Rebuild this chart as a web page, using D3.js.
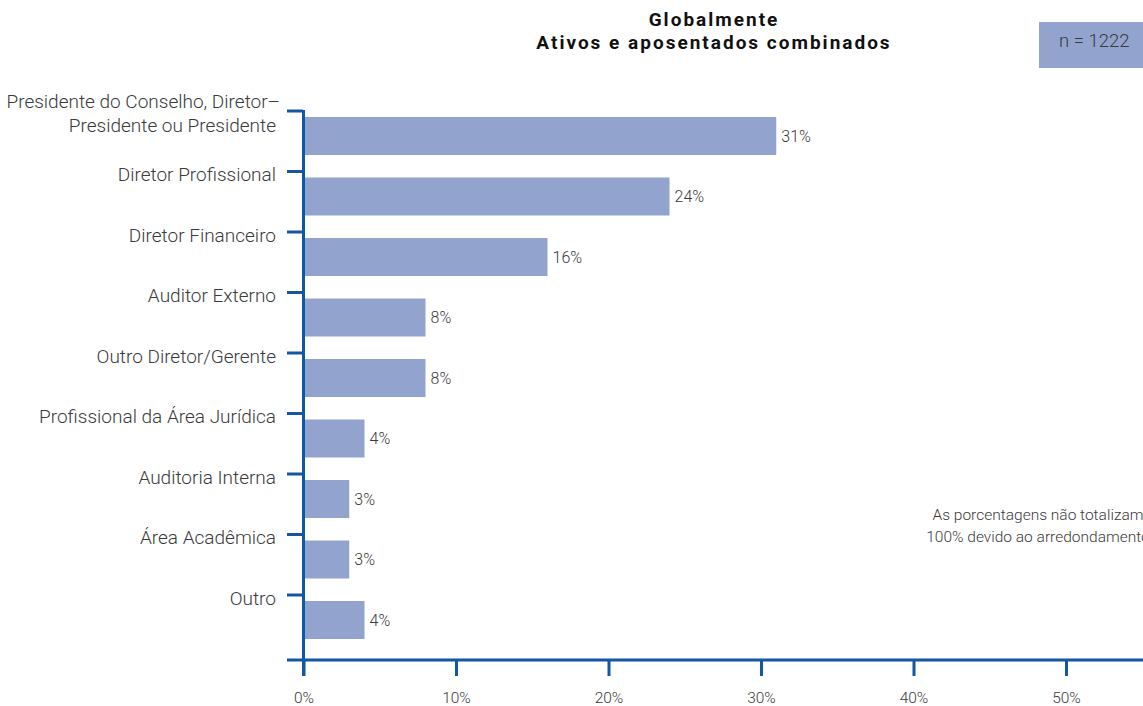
<!DOCTYPE html>
<html>
<head>
<meta charset="utf-8">
<script src="https://cdn.jsdelivr.net/npm/d3@7"></script>
<style>
  html, body { margin: 0; padding: 0; background: #fff; }
  svg { display: block; }
  text { font-family: Roboto, "Liberation Sans", Arial, sans-serif; }
</style>
</head>
<body>
<script>
// ---- data ----
const categories = [
  "Presidente do Conselho, Diretor–\nPresidente ou Presidente",
  "Diretor Profissional",
  "Diretor Financeiro",
  "Auditor Externo",
  "Outro Diretor/Gerente",
  "Profissional da Área Jurídica",
  "Auditoria Interna",
  "Área Acadêmica",
  "Outro"
];
const values = [31, 24, 16, 8, 8, 4, 3, 3, 4];
const xTicks = [0, 10, 20, 30, 40, 50];
const titleLines = ["Globalmente", "Ativos e aposentados combinados"];
const sampleLabel = "n = 1222";
const noteLines = ["As porcentagens não totalizam", "100% devido ao arredondamento"];

// ---- layout ----
const W = 1143, H = 706;
const barColor = "#92a3cd";
const axisColor = "#1257a1";
const textColor = "#3a3a3a";

const svg = d3.select("body").append("svg").attr("width", W).attr("height", H);

const x = d3.scaleLinear().domain([0, 50]).range([303.5, 1066]);
const y = d3.scaleBand().domain(categories).range([111, 111 + 9 * 60.5]);

// bars
svg.append("g").selectAll("rect").data(categories).join("rect")
  .attr("x", x(0))
  .attr("y", d => y(d) + 6)
  .attr("width", (d, i) => x(values[i]) - x(0))
  .attr("height", 38)
  .attr("fill", barColor);

// value labels
svg.append("g").selectAll("text").data(categories).join("text")
  .attr("x", (d, i) => x(values[i]) + 5)
  .attr("y", d => y(d) + 25)
  .attr("dy", "0.35em")
  .attr("font-size", 16)
  .attr("font-weight", 300)
  .attr("fill", textColor)
  .text((d, i) => values[i] + "%");

// x axis
const xAxis = d3.axisBottom(x).tickValues(xTicks).tickSize(16).tickFormat(d => d + "%");
const gx = svg.append("g").attr("transform", "translate(0,660)").call(xAxis);
gx.select(".domain").remove();
gx.append("line").attr("x1", 287).attr("x2", W).attr("y1", 0).attr("y2", 0)
  .attr("stroke", axisColor).attr("stroke-width", 3);
gx.selectAll(".tick line").attr("stroke", axisColor).attr("stroke-width", 3);
gx.selectAll(".tick text")
  .attr("y", 43)
  .attr("dy", 0)
  .attr("font-size", 15.5)
  .attr("font-weight", 300)
  .attr("fill", textColor);

// y axis
const gy = svg.append("g");
gy.append("line").attr("x1", 303.5).attr("x2", 303.5).attr("y1", 110).attr("y2", 676)
  .attr("stroke", axisColor).attr("stroke-width", 3);
gy.selectAll("line.tk").data(categories).join("line").attr("class", "tk")
  .attr("x1", 287).attr("x2", 303)
  .attr("y1", d => y(d)).attr("y2", d => y(d))
  .attr("stroke", axisColor).attr("stroke-width", 3);

// category labels
const lab = svg.append("g").selectAll("text").data(categories).join("text")
  .attr("x", 276)
  .attr("y", d => y(d))
  .attr("text-anchor", "end")
  .attr("font-size", 19)
  .attr("font-weight", 300)
  .attr("fill", textColor);
lab.each(function(d) {
  const lines = d.split("\n");
  const t = d3.select(this);
  const yy = y(d);
  lines.forEach((ln, k) => {
    const off = lines.length === 1 ? 9.5 : (k === 0 ? -3 : 21);
    t.append("tspan").attr("x", k === 0 && lines.length > 1 ? 280 : 276)
      .attr("y", yy + off).text(ln);
  });
});

// title
svg.append("g").selectAll("text").data(titleLines).join("text")
  .attr("x", 714)
  .attr("y", (d, i) => 26 + i * 23)
  .attr("text-anchor", "middle")
  .attr("font-size", 19)
  .attr("font-weight", 700)
  .attr("letter-spacing", "2px")
  .attr("fill", "#111")
  .text(d => d);

// n box
svg.append("rect").attr("x", 1039).attr("y", 22).attr("width", 110).attr("height", 46)
  .attr("fill", barColor);
svg.append("text").attr("x", 1059).attr("y", 47)
  .attr("font-size", 18.5).attr("font-weight", 300).attr("fill", textColor)
  .text(sampleLabel);

// note
svg.append("g").selectAll("text").data(noteLines).join("text")
  .attr("x", 1038)
  .attr("y", (d, i) => 515 + i * 22)
  .attr("dy", "0.35em")
  .attr("text-anchor", "middle")
  .attr("font-size", 15.5)
  .attr("font-weight", 300)
  .attr("fill", textColor)
  .text(d => d);
</script>
</body>
</html>
